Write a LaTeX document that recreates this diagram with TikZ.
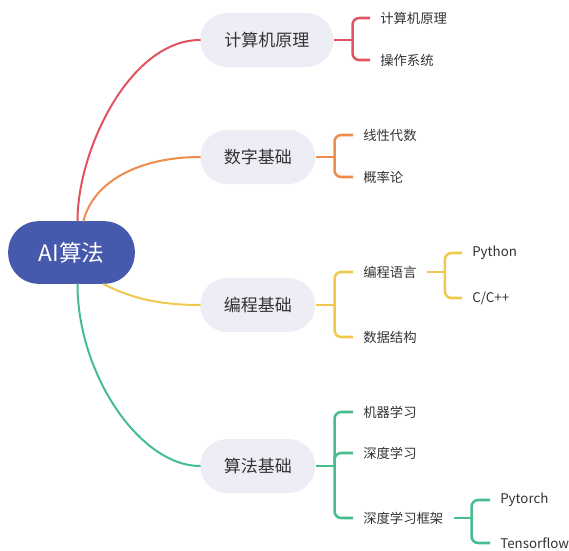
\documentclass[tikz,border=0pt]{standalone}
\usepackage{fontspec}
\setmainfont{Noto Sans CJK SC}
\usepackage{tikz}
\usetikzlibrary{calc}

\definecolor{RootBlue}{HTML}{4659AC}
\definecolor{TopicGray}{HTML}{EDEDF5}
\definecolor{TextGray}{HTML}{333333}
\definecolor{LineRed}{HTML}{E2535D}
\definecolor{LineOrange}{HTML}{EE8C4E}
\definecolor{LineYellow}{HTML}{EEC94E}
\definecolor{LineGreen}{HTML}{45BD8C}

\begin{document}
\begin{tikzpicture}[x=0.75pt,y=-0.75pt,
    rootnode/.style={fill=RootBlue, text=white, rounded corners=23pt, minimum width=95pt, minimum height=47pt, font=\fontsize{17}{20}\selectfont},
    topic/.style={fill=TopicGray, text=TextGray, rounded corners=20pt, minimum height=40.5pt, anchor=west, font=\fontsize{12.75}{15}\selectfont},
    leaf/.style={anchor=west, inner xsep=7.5pt, inner ysep=2pt, text=TextGray, font=\fontsize{10}{12}\selectfont},
    branch/.style={line width=1.5pt, line cap=round},
    bracket/.style={line width=1.9pt, rounded corners=5pt}]

    \useasboundingbox (0,0) rectangle (569,551);

    %Root
    \node[rootnode] (root) at (71.5,252.5) {AI算法}; %Text

    %Topics
    \node[topic, minimum width=99.75pt] (jsj) at (200,40) {计算机原理}; %Text
    \node[topic, minimum width=86.25pt] (sxjc) at (200,157) {数字基础}; %Text
    \node[topic, minimum width=86.25pt] (bcjc) at (200,305) {编程基础}; %Text
    \node[topic, minimum width=86.25pt] (sfjc) at (200,466) {算法基础}; %Text

    %Root branches
    \draw[branch, LineRed] ($(root.north)+(6,0)$) .. controls +(0,-71) and +(-70,0) .. (jsj.west);
    \draw[branch, LineOrange] ($(root.north)+(12,0)$) .. controls +(10,-40) and +(-60,0) .. (sxjc.west);
    \draw[branch, LineYellow] ($(root.south)+(32,0)$) .. controls +(20,10) and +(-50,0) .. (bcjc.west);
    \draw[branch, LineGreen] ($(root.south)+(6,0)$) .. controls +(0,90) and +(-60,0) .. (sfjc.west);

    %Computer principles
    \node[leaf] (jsj1) at (370,18) {计算机原理}; %Text
    \node[leaf] (jsj2) at (370,60) {操作系统}; %Text
    \draw[bracket, LineRed] (jsj.east) -- ++(19,0) coordinate (jsjJ); %Stub
    \draw[bracket, LineRed] (jsjJ) |- (jsj1.west); %Upper arm
    \draw[bracket, LineRed] (jsjJ) |- (jsj2.west); %Lower arm

    %Maths
    \node[leaf] (sx1) at (353,135) {线性代数}; %Text
    \node[leaf] (sx2) at (353,177) {概率论}; %Text
    \draw[bracket, LineOrange] (sxjc.east) -- ++(19,0) coordinate (sxJ); %Stub
    \draw[bracket, LineOrange] (sxJ) |- (sx1.west); %Upper arm
    \draw[bracket, LineOrange] (sxJ) |- (sx2.west); %Lower arm

    %Programming
    \node[leaf] (bcyy) at (353,272) {编程语言}; %Text
    \node[leaf] (sjjg) at (353,337) {数据结构}; %Text
    \draw[bracket, LineYellow] (bcjc.east) -- ++(19,0) coordinate (bcJ); %Stub
    \draw[bracket, LineYellow] (bcJ) |- (bcyy.west); %Upper arm
    \draw[bracket, LineYellow] (bcJ) |- (sjjg.west); %Lower arm

    %Languages
    \node[leaf] (py) at (462,253) {Python}; %Text
    \node[leaf] (cpp) at (462,298) {C/C++}; %Text
    \draw[bracket, LineYellow] (bcyy.east) -- ++(18,0) coordinate (yyJ); %Stub
    \draw[bracket, LineYellow] (yyJ) |- (py.west); %Upper arm
    \draw[bracket, LineYellow] (yyJ) |- (cpp.west); %Lower arm

    %Algorithms
    \node[leaf] (jqxx) at (353,412) {机器学习}; %Text
    \node[leaf] (sdxx) at (353,453) {深度学习}; %Text
    \node[leaf] (sdkj) at (353,518) {深度学习框架}; %Text
    \draw[bracket, LineGreen] (sfjc.east) -- ++(19,0) coordinate (sfJ); %Stub
    \draw[bracket, LineGreen] (sfJ) |- (jqxx.west); %Upper arm
    \draw[bracket, LineGreen] (sfJ) -- (sfJ |- sdxx.west) -- (sdxx.west); %Middle arm
    \draw[bracket, LineGreen] (sfJ) |- (sdkj.west); %Lower arm

    %Frameworks
    \node[leaf] (pt) at (490,500) {Pytorch}; %Text
    \node[leaf] (tf) at (490,543) {Tensorflow}; %Text
    \draw[bracket, LineGreen] (sdkj.east) -- ++(18,0) coordinate (kjJ); %Stub
    \draw[bracket, LineGreen] (kjJ) |- (pt.west); %Upper arm
    \draw[bracket, LineGreen] (kjJ) |- (tf.west); %Lower arm

\end{tikzpicture}
\end{document}
